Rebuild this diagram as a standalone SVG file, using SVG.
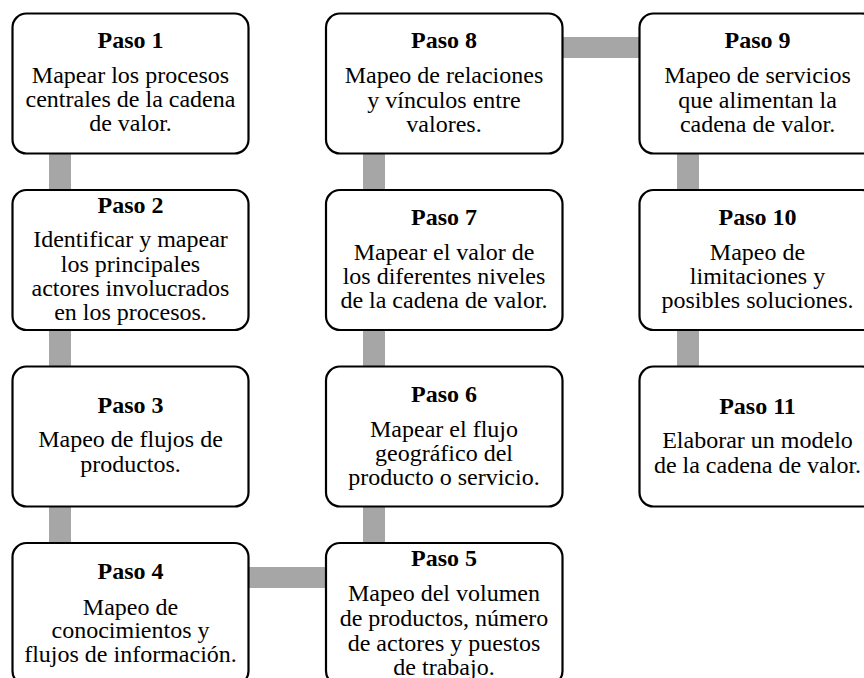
<svg xmlns="http://www.w3.org/2000/svg" width="864" height="678" viewBox="0 0 864 678">
<style>
.box{fill:#ffffff;stroke:#000000;stroke-width:2.2}
.con{fill:#a6a6a6;stroke:none}
text{font-family:"Liberation Serif","Times New Roman",serif;font-size:24px;fill:#000000;text-anchor:middle}
.t{font-weight:bold}
</style>
<rect width="864" height="678" fill="#ffffff"/>
<g id="connectors">
<rect class="con" x="49" y="150" width="22" height="44"/>
<rect class="con" x="49" y="326" width="22" height="44"/>
<rect class="con" x="49" y="502" width="22" height="44"/>
<rect class="con" x="244" y="567" width="86" height="21"/>
<rect class="con" x="363" y="502" width="22" height="44"/>
<rect class="con" x="363" y="326" width="22" height="44"/>
<rect class="con" x="363" y="150" width="22" height="44"/>
<rect class="con" x="558" y="37" width="86" height="21"/>
<rect class="con" x="677" y="150" width="22" height="44"/>
<rect class="con" x="677" y="326" width="22" height="44"/>
</g>
<g id="paso1">
<rect class="box" x="12.5" y="13.5" width="236" height="140" rx="14"/>
<text class="t" x="130.5" y="48">Paso 1</text>
<text x="130.5" y="83">Mapear los procesos</text>
<text x="130.5" y="107">centrales de la cadena</text>
<text x="130.5" y="131">de valor.</text>
</g>
<g id="paso2">
<rect class="box" x="12.5" y="190" width="236" height="140" rx="14"/>
<text class="t" x="130.5" y="213">Paso 2</text>
<text x="130.5" y="247">Identificar y mapear</text>
<text x="130.5" y="271.5">los principales</text>
<text x="130.5" y="295.5">actores involucrados</text>
<text x="130.5" y="320">en los procesos.</text>
</g>
<g id="paso3">
<rect class="box" x="12.5" y="366.5" width="236" height="140" rx="14"/>
<text class="t" x="130.5" y="413">Paso 3</text>
<text x="130.5" y="447">Mapeo de flujos de</text>
<text x="130.5" y="471.5">productos.</text>
</g>
<g id="paso4">
<rect class="box" x="12.5" y="543" width="236" height="142" rx="14"/>
<text class="t" x="130.5" y="579">Paso 4</text>
<text x="130.5" y="614.5">Mapeo de</text>
<text x="130.5" y="638">conocimientos y</text>
<text x="130.5" y="662">flujos de información.</text>
</g>
<g id="paso5">
<rect class="box" x="326" y="543" width="236.5" height="142" rx="14"/>
<text class="t" x="444" y="566">Paso 5</text>
<text x="444" y="601">Mapeo del volumen</text>
<text x="444" y="626">de productos, número</text>
<text x="444" y="651">de actores y puestos</text>
<text x="444" y="675">de trabajo.</text>
</g>
<g id="paso6">
<rect class="box" x="326" y="366.5" width="236.5" height="140" rx="14"/>
<text class="t" x="444" y="401.5">Paso 6</text>
<text x="444" y="436.5">Mapear el flujo</text>
<text x="444" y="460.5">geográfico del</text>
<text x="444" y="485">producto o servicio.</text>
</g>
<g id="paso7">
<rect class="box" x="326" y="190" width="236.5" height="140" rx="14"/>
<text class="t" x="444" y="224.5">Paso 7</text>
<text x="444" y="259.5">Mapear el valor de</text>
<text x="444" y="283.5">los diferentes niveles</text>
<text x="444" y="307.5">de la cadena de valor.</text>
</g>
<g id="paso8">
<rect class="box" x="326" y="13.5" width="236.5" height="140" rx="14"/>
<text class="t" x="444" y="48">Paso 8</text>
<text x="444" y="83">Mapeo de relaciones</text>
<text x="444" y="107.5">y vínculos entre</text>
<text x="444" y="131.5">valores.</text>
</g>
<g id="paso9">
<rect class="box" x="639.5" y="13.5" width="236" height="140" rx="14"/>
<text class="t" x="757.5" y="48">Paso 9</text>
<text x="757.5" y="83">Mapeo de servicios</text>
<text x="757.5" y="107.5">que alimentan la</text>
<text x="757.5" y="131.5">cadena de valor.</text>
</g>
<g id="paso10">
<rect class="box" x="639.5" y="190" width="236" height="140" rx="14"/>
<text class="t" x="757.5" y="224.5">Paso 10</text>
<text x="757.5" y="259.5">Mapeo de</text>
<text x="757.5" y="283.5">limitaciones y</text>
<text x="757.5" y="307.5">posibles soluciones.</text>
</g>
<g id="paso11">
<rect class="box" x="639.5" y="366.5" width="236" height="140" rx="14"/>
<text class="t" x="757.5" y="413.5">Paso 11</text>
<text x="757.5" y="448">Elaborar un modelo</text>
<text x="757.5" y="472.5">de la cadena de valor.</text>
</g>
</svg>
